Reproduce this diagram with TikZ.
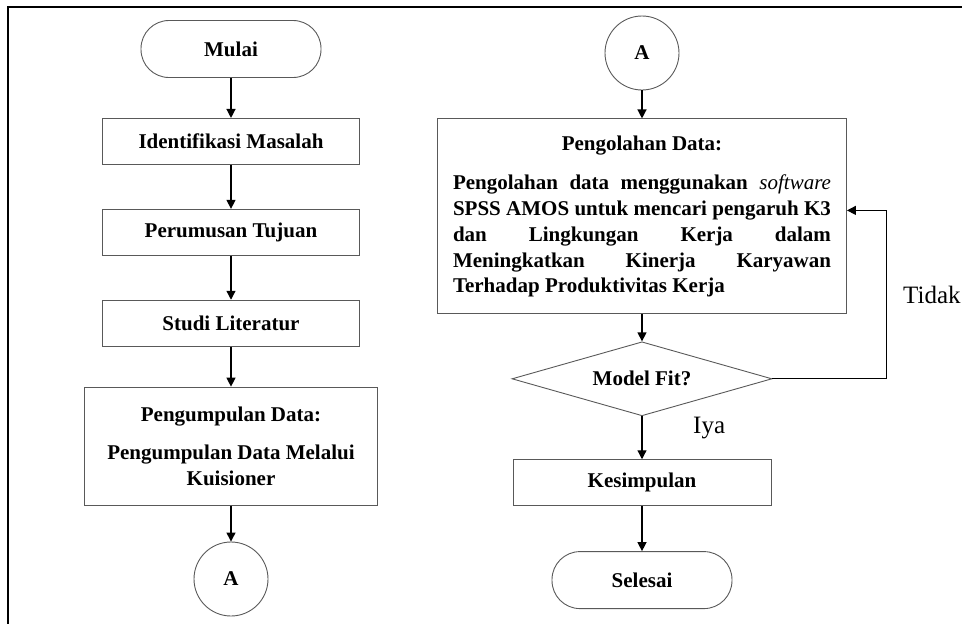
\documentclass[tikz,border=0pt]{standalone}
\usepackage{fontspec}
\setmainfont{Liberation Serif}
\usetikzlibrary{shapes.geometric, arrows.meta, positioning}
\hbadness=10000
\tikzstyle{startstop} = [rectangle, rounded corners=28pt, minimum width=180pt, minimum height=57pt, text centered, draw=black!65, line width=0.9pt]
\tikzstyle{process} = [rectangle, minimum width=257pt, minimum height=46pt, text centered, draw=black!65, line width=0.9pt]
\tikzstyle{connector} = [circle, minimum size=74pt, inner sep=0pt, draw=black!65, line width=0.9pt]
\tikzstyle{decision} = [diamond, shape aspect=3.5, minimum width=260pt, minimum height=74pt, inner sep=0pt, draw=black!65, line width=0.9pt]
\tikzstyle{answer} = [font=\fontsize{25}{30}\selectfont\mdseries, inner sep=0pt]
\tikzstyle{arrow} = [line width=1.3pt, -{Triangle[length=9pt,width=9pt]}]

\begin{document}
\begin{tikzpicture}[font=\fontsize{21}{25.75}\selectfont\bfseries]

\useasboundingbox (0,0) rectangle (962pt,-624pt);
\draw [line width=2pt] (8pt,-624pt) -- (8pt,-7pt) -- (962pt,-7pt);

% left column
\node (start) [startstop] at (231pt,-49pt) {Mulai};
\node (ident) [process, below=40pt of start] {Identifikasi Masalah};
\node (tujuan) [process, below=44pt of ident] {Perumusan Tujuan};
\node (studi) [process, below=44pt of tujuan] {Studi Literatur};
\node (kumpul) [process, below=40pt of studi, minimum width=293pt, minimum height=118pt, align=center] {Pengumpulan Data:\\[13pt]Pengumpulan Data Melalui\\Kuisioner};
\node (conA) [connector, below=36pt of kumpul] {A};

% right column
\node (conB) [connector] at (642pt,-53pt) {A};
\node (olah) [process, below=28pt of conB, minimum width=409pt, minimum height=195pt] {\parbox{378pt}{{\centering Pengolahan Data:\par}\vspace{14pt}Pengolahan data menggunakan \textit{\mdseries software} \linebreak SPSS AMOS untuk mencari pengaruh K3 \linebreak dan Lingkungan Kerja dalam \linebreak Meningkatkan Kinerja Karyawan \linebreak Terhadap Produktivitas Kerja}};
\node (cek) [decision, below=27pt of olah] {Model Fit?};
\node (simpul) [process, below=43pt of cek, minimum width=258pt] {Kesimpulan};
\node (end) [startstop, below=45pt of simpul] {Selesai};
\node (tidak) [answer, anchor=west] at (903pt,-295pt) {Tidak};
\node (iya) [answer, anchor=west] at (693pt,-428pt) {Iya};

\draw [arrow] (start) -- (ident);
\draw [arrow] (ident) -- (tujuan);
\draw [arrow] (tujuan) -- (studi);
\draw [arrow] (studi) -- (kumpul);
\draw [arrow] (kumpul) -- (conA);
\draw [arrow] (conB) -- (olah);
\draw [arrow] (olah) -- (cek);
\draw [arrow] (cek) -- (simpul);
\draw [arrow] (simpul) -- (end);
\draw [arrow] (cek.east) -- ++(114pt,0) |- ([yshift=6pt]olah.east);

\end{tikzpicture}
\end{document}
